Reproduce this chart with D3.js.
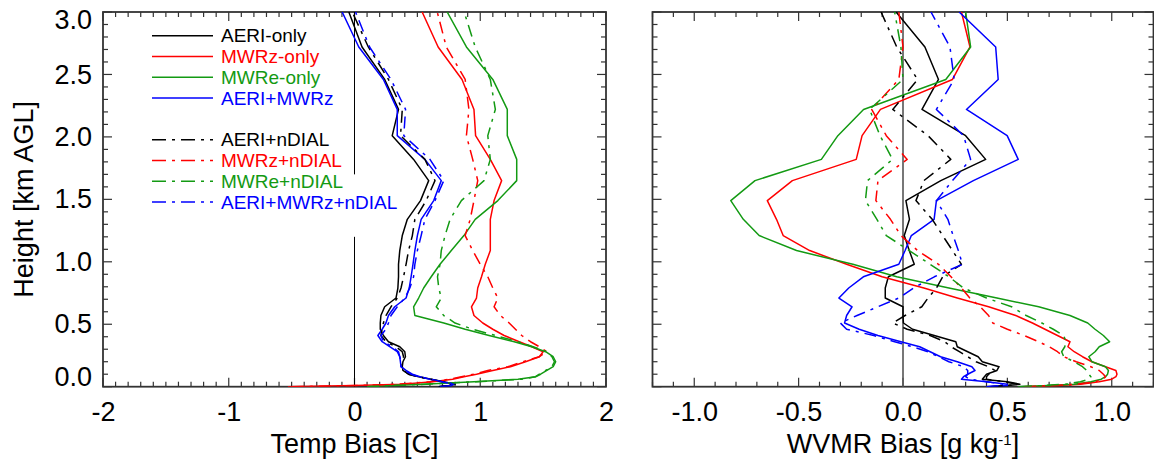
<!DOCTYPE html>
<html><head><meta charset="utf-8">
<script src="https://cdn.jsdelivr.net/npm/d3@7"></script>
<style>
html,body{margin:0;padding:0;background:#fff;}
svg{display:block;font-family:"Liberation Sans",Arial,Helvetica,sans-serif;}
</style></head><body>
<svg id="chart" width="1154" height="463"></svg>
<script>
// Retrieval height levels (km AGL), surface first
const heights = [0, 0.01, 0.02, 0.04, 0.06, 0.08, 0.10, 0.13, 0.16, 0.20, 0.24, 0.28, 0.32, 0.36, 0.41, 0.46, 0.51, 0.57, 0.64, 0.71, 0.79, 0.88, 0.98, 1.09, 1.21, 1.34, 1.49, 1.65, 1.82, 2.01, 2.22, 2.46, 2.72, 3.0];

// Temperature bias profiles [C]
const tAeri        = [0.67, 0.76, 0.80, 0.71, 0.61, 0.51, 0.43, 0.385, 0.38, 0.385, 0.405, 0.40, 0.36, 0.27, 0.23, 0.205, 0.205, 0.21, 0.24, 0.33, 0.345, 0.35, 0.35, 0.36, 0.38, 0.42, 0.525, 0.59, 0.47, 0.30, 0.35, 0.24, 0.06, -0.045];
const tMwrz        = [-0.53, 0.0, 0.38, 0.62, 0.78, 0.87, 0.97, 1.10, 1.24, 1.36, 1.47, 1.50, 1.41, 1.31, 1.19, 1.10, 1.02, 0.95, 0.93, 0.97, 0.98, 1.01, 1.04, 1.08, 1.08, 1.08, 1.11, 1.17, 1.08, 0.963, 0.95, 0.855, 0.665, 0.538];
const tMwre        = [0.10, 0.30, 0.55, 0.95, 1.30, 1.44, 1.48, 1.53, 1.58, 1.60, 1.58, 1.52, 1.41, 1.27, 1.07, 0.88, 0.71, 0.48, 0.47, 0.51, 0.55, 0.61, 0.68, 0.77, 0.87, 0.96, 1.14, 1.29, 1.29, 1.215, 1.215, 1.10, 0.89, 0.737];
const tAeriMwrz    = [0.67, 0.76, 0.79, 0.69, 0.60, 0.52, 0.46, 0.41, 0.37, 0.365, 0.36, 0.34, 0.28, 0.22, 0.186, 0.22, 0.25, 0.27, 0.32, 0.41, 0.435, 0.45, 0.465, 0.48, 0.50, 0.53, 0.63, 0.69, 0.56, 0.34, 0.34, 0.23, 0.034, -0.098];
const tAeriDial    = [0.67, 0.75, 0.79, 0.70, 0.60, 0.50, 0.43, 0.39, 0.38, 0.38, 0.39, 0.38, 0.33, 0.25, 0.21, 0.22, 0.23, 0.25, 0.29, 0.34, 0.37, 0.39, 0.41, 0.43, 0.46, 0.48, 0.57, 0.64, 0.56, 0.366, 0.38, 0.27, 0.11, -0.018];
const tMwrzDial    = [-0.50, 0.05, 0.35, 0.60, 0.76, 0.85, 0.95, 1.06, 1.22, 1.34, 1.47, 1.53, 1.47, 1.40, 1.33, 1.28, 1.23, 1.16, 1.11, 1.14, 1.10, 1.06, 1.00, 0.94, 0.88, 0.92, 0.95, 0.98, 0.94, 0.89, 0.91, 0.88, 0.73, 0.658];
const tMwreDial    = [0.10, 0.30, 0.57, 0.97, 1.33, 1.44, 1.47, 1.52, 1.57, 1.59, 1.57, 1.53, 1.42, 1.30, 1.12, 0.94, 0.80, 0.71, 0.65, 0.69, 0.67, 0.66, 0.68, 0.69, 0.72, 0.76, 0.85, 1.03, 1.08, 1.06, 1.12, 1.08, 0.96, 0.872];
const tAeriMwrzDial= [0.68, 0.77, 0.80, 0.70, 0.61, 0.51, 0.45, 0.40, 0.37, 0.37, 0.36, 0.35, 0.30, 0.23, 0.21, 0.25, 0.27, 0.29, 0.34, 0.40, 0.44, 0.47, 0.48, 0.50, 0.53, 0.56, 0.64, 0.71, 0.60, 0.392, 0.406, 0.29, 0.12, 0.008];

// Water vapour mixing ratio bias profiles [g/kg]
const wAeri        = [0.42, 0.50, 0.56, 0.50, 0.38, 0.39, 0.40, 0.45, 0.46, 0.38, 0.36, 0.31, 0.26, 0.253, 0.15, 0.046, 0.002, 0.0, 0.0, -0.085, -0.085, -0.07, 0.054, 0.03, 0.006, 0.031, 0.014, 0.181, 0.396, 0.30, 0.091, 0.17, 0.105, -0.033];
const wMwrz        = [0.60, 0.75, 0.85, 0.94, 1.00, 1.02, 1.025, 1.02, 0.97, 0.905, 0.86, 0.82, 0.79, 0.80, 0.74, 0.68, 0.62, 0.54, 0.41, 0.26, 0.10, -0.10, -0.27, -0.447, -0.574, -0.606, -0.65, -0.53, -0.224, -0.196, -0.108, 0.237, 0.321, 0.28];
const wMwre        = [0.55, 0.70, 0.82, 0.90, 0.95, 0.97, 0.98, 0.984, 0.97, 0.905, 0.89, 0.92, 0.94, 0.99, 0.96, 0.92, 0.885, 0.80, 0.65, 0.45, 0.22, -0.03, -0.24, -0.51, -0.689, -0.765, -0.825, -0.709, -0.391, -0.312, -0.189, 0.205, 0.324, 0.30];
const wAeriMwrz    = [0.40, 0.50, 0.50, 0.40, 0.28, 0.29, 0.31, 0.345, 0.33, 0.26, 0.18, 0.13, 0.08, -0.01, -0.12, -0.21, -0.28, -0.27, -0.244, -0.307, -0.26, -0.19, -0.02, 0.01, 0.04, 0.149, 0.16, 0.337, 0.552, 0.499, 0.304, 0.456, 0.444, 0.269];
const wAeriDial    = [0.42, 0.50, 0.55, 0.48, 0.40, 0.40, 0.41, 0.44, 0.41, 0.35, 0.31, 0.27, 0.23, 0.20, 0.13, 0.02, -0.049, 0.01, 0.09, 0.12, 0.16, 0.19, 0.28, 0.237, 0.19, 0.14, 0.062, 0.10, 0.229, 0.12, -0.049, 0.07, -0.03, -0.105];
const wMwrzDial    = [0.58, 0.72, 0.83, 0.92, 0.96, 0.97, 0.96, 0.94, 0.90, 0.83, 0.77, 0.74, 0.70, 0.65, 0.58, 0.50, 0.43, 0.41, 0.37, 0.32, 0.28, 0.23, 0.17, 0.07, -0.01, -0.06, -0.13, -0.12, 0.02, -0.08, -0.15, -0.02, 0.0, -0.02];
const wMwreDial    = [0.56, 0.68, 0.78, 0.85, 0.89, 0.90, 0.89, 0.88, 0.86, 0.82, 0.77, 0.76, 0.775, 0.78, 0.77, 0.72, 0.665, 0.59, 0.52, 0.40, 0.29, 0.22, 0.13, 0.03, -0.08, -0.125, -0.18, -0.17, -0.05, -0.11, -0.16, 0.0, -0.01, -0.04];
const wAeriMwrzDial= [0.40, 0.48, 0.48, 0.40, 0.32, 0.30, 0.31, 0.31, 0.29, 0.22, 0.17, 0.12, 0.045, -0.04, -0.14, -0.27, -0.30, -0.22, -0.12, -0.02, 0.05, 0.15, 0.285, 0.265, 0.24, 0.215, 0.16, 0.237, 0.324, 0.29, 0.16, 0.245, 0.225, 0.134];

// Legend entries
const seriesNames  = ["AERI-only", "MWRz-only", "MWRe-only", "AERI+MWRz", "AERI+nDIAL", "MWRz+nDIAL", "MWRe+nDIAL", "AERI+MWRz+nDIAL"];
const seriesColors = ["#000000", "#ff0000", "#139a13", "#0000ff", "#000000", "#ff0000", "#139a13", "#0000ff"];
const seriesDashDot = [false, false, false, false, true, true, true, true];
const tempSeries = [tAeri, tMwrz, tMwre, tAeriMwrz, tAeriDial, tMwrzDial, tMwreDial, tAeriMwrzDial];
const wvmrSeries = [wAeri, wMwrz, wMwre, wAeriMwrz, wAeriDial, wMwrzDial, wMwreDial, wAeriMwrzDial];

// Axis ticks
const heightTicks = [0, 0.5, 1.0, 1.5, 2.0, 2.5, 3.0];
const tempTicks = [-2, -1, 0, 1, 2];
const wvmrTicks = [-1.0, -0.5, 0.0, 0.5, 1.0];
const tempZeroSpans = [[1.70, 3.0], [0, 1.20]];

const svg = d3.select("#chart");
const yTop = 12, yBottom = 386.7;
const y = d3.scaleLinear().domain([0, 3]).range([yBottom, yTop]);
const xT = d3.scaleLinear().domain([-2, 2]).range([103, 606]);
const xW = d3.scaleLinear().domain([-1.2, 1.2]).range([652.5, 1153.5]);
const DASH = "12,6,3,6";
const FONT = 27;

function minorRange(a, b) {
  return d3.range(Math.round(a * 10), Math.round(b * 10) + 1).map(v => v / 10);
}

function drawFrame(x, majorX, xLabels, fmt) {
  const g = svg.append("g");
  const [x0, x1] = x.range();
  const yMinor = minorRange(0, 3);
  const xMinor = minorRange(x.domain()[0], x.domain()[1]);
  const isMajor = (v, arr) => arr.some(m => Math.abs(m - v) < 1e-6);
  const tickStroke = "#333";
  // inward ticks on all four sides
  yMinor.forEach(v => {
    const len = isMajor(v, heightTicks) ? 9 : 5;
    g.append("line").attr("x1", x0).attr("x2", x0 + len).attr("y1", y(v)).attr("y2", y(v)).attr("stroke", tickStroke).attr("stroke-width", 1.2);
    g.append("line").attr("x1", x1).attr("x2", x1 - len).attr("y1", y(v)).attr("y2", y(v)).attr("stroke", tickStroke).attr("stroke-width", 1.2);
  });
  xMinor.forEach(v => {
    const len = isMajor(v, majorX) ? 9 : 5;
    g.append("line").attr("x1", x(v)).attr("x2", x(v)).attr("y1", yBottom).attr("y2", yBottom - len).attr("stroke", tickStroke).attr("stroke-width", 1.2);
    g.append("line").attr("x1", x(v)).attr("x2", x(v)).attr("y1", yTop).attr("y2", yTop + len).attr("stroke", tickStroke).attr("stroke-width", 1.2);
  });
  g.append("rect").attr("x", x0).attr("y", yTop).attr("width", x1 - x0).attr("height", yBottom - yTop)
    .attr("fill", "none").attr("stroke", "#333").attr("stroke-width", 1.8);

  // bottom tick labels
  const ax = d3.axisBottom(x).tickValues(xLabels).tickFormat(fmt).tickSize(0).tickPadding(15);
  const ga = svg.append("g").attr("transform", `translate(0,${yBottom})`).call(ax);
  ga.select(".domain").remove();
  ga.selectAll("text").attr("font-size", FONT).attr("fill", "#000").attr("font-family", "Liberation Sans, Arial, sans-serif");
  return g;
}

drawFrame(xT, tempTicks, tempTicks, d => String(d));
drawFrame(xW, wvmrTicks, wvmrTicks, d => d.toFixed(1));

// Height labels on the left panel
const ay = d3.axisLeft(y).tickValues(heightTicks).tickFormat(d => d.toFixed(1)).tickSize(0).tickPadding(11);
const gy = svg.append("g").attr("transform", `translate(103,0)`).call(ay);
gy.select(".domain").remove();
gy.selectAll("text").attr("font-size", FONT).attr("fill", "#000").attr("font-family", "Liberation Sans, Arial, sans-serif")
  .attr("dy", d => d === 3 ? "0.62em" : d === 0 ? "-0.05em" : "0.32em");

// Axis titles
svg.append("text").attr("x", (xT.range()[0] + xT.range()[1]) / 2).attr("y", 453).attr("text-anchor", "middle")
  .attr("font-size", FONT).text("Temp Bias [C]");
const wt = svg.append("text").attr("x", (xW.range()[0] + xW.range()[1]) / 2).attr("y", 453).attr("text-anchor", "middle")
  .attr("font-size", FONT);
wt.append("tspan").text("WVMR Bias [g kg");
wt.append("tspan").attr("font-size", 15).attr("dy", -8).text("-1");
wt.append("tspan").attr("dy", 8).text("]");
svg.append("text").attr("transform", `translate(33,${(yTop + yBottom) / 2}) rotate(-90)`).attr("text-anchor", "middle")
  .attr("font-size", FONT).text("Height [km AGL]");

// Zero reference lines
tempZeroSpans.forEach(([a, b]) => {
  svg.append("line").attr("x1", xT(0)).attr("x2", xT(0)).attr("y1", y(a)).attr("y2", y(b))
    .attr("stroke", "#000").attr("stroke-width", 1);
});
svg.append("line").attr("x1", xW(0)).attr("x2", xW(0)).attr("y1", y(0)).attr("y2", y(3))
  .attr("stroke", "#555").attr("stroke-width", 1.6);

// Profiles
const defs = svg.append("defs");
defs.append("clipPath").attr("id", "clipT").append("rect").attr("x", 103).attr("y", yTop).attr("width", 503).attr("height", yBottom - yTop);
defs.append("clipPath").attr("id", "clipW").append("rect").attr("x", 652.5).attr("y", yTop).attr("width", 501).attr("height", yBottom - yTop);

function drawProfiles(x, series, clip) {
  const line = d3.line().x(d => x(d.v)).y(d => y(d.h));
  const g = svg.append("g").attr("clip-path", `url(#${clip})`);
  series.forEach((vals, i) => {
    const pts = heights.map((h, k) => ({ h, v: vals[k] }));
    g.append("path").datum(pts).attr("d", line).attr("fill", "none")
      .attr("stroke", seriesColors[i]).attr("stroke-width", 1.5)
      .attr("stroke-linejoin", "round")
      .attr("stroke-dasharray", seriesDashDot[i] ? DASH : null);
  });
}
drawProfiles(xT, tempSeries, "clipT");
drawProfiles(xW, wvmrSeries, "clipW");

// Legend
const legend = svg.append("g");
const rowY = [0, 1, 2, 3, 5, 6, 7, 8].map(r => 35.7 + r * 20.8);
seriesNames.forEach((name, i) => {
  legend.append("line").attr("x1", 152).attr("x2", 213).attr("y1", rowY[i]).attr("y2", rowY[i])
    .attr("stroke", seriesColors[i]).attr("stroke-width", 1.5)
    .attr("stroke-dasharray", seriesDashDot[i] ? "14,6,3,6" : null);
  legend.append("text").attr("x", 221).attr("y", rowY[i]).attr("dy", "0.35em")
    .attr("font-size", 19).attr("fill", seriesColors[i]).text(name);
});
</script></body></html>
